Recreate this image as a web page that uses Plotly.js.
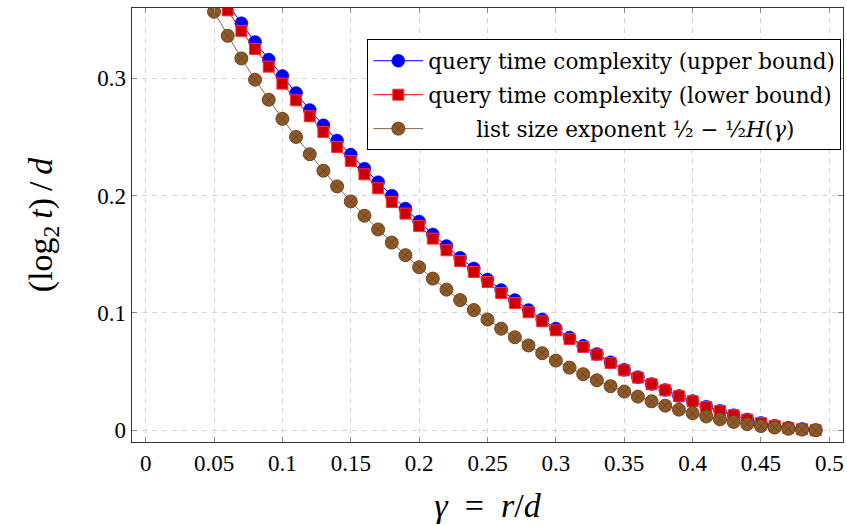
<!DOCTYPE html>
<html>
<head>
<meta charset="utf-8">
<script src="https://cdn.plot.ly/plotly-3.0.1.min.js"></script>
<style>html,body{margin:0;padding:0;background:#fff;}#chart{width:847px;height:525px;}</style>
</head>
<body>
<div id="chart"></div>
<script>
// gamma values
const gamma = [0.05,0.06,0.07,0.08,0.09,0.10,0.11,0.12,0.13,0.14,0.15,0.16,0.17,0.18,0.19,0.20,0.21,0.22,0.23,0.24,0.25,0.26,0.27,0.28,0.29,0.30,0.31,0.32,0.33,0.34,0.35,0.36,0.37,0.38,0.39,0.40,0.41,0.42,0.43,0.44,0.45,0.46,0.47,0.48,0.49];

// query time complexity (upper bound)
const upperBound = [0.380,0.363,0.347,0.331,0.316,0.302,0.2875,0.273,0.260,0.247,0.235,0.223,0.2115,0.200,0.189,0.178,0.167,0.157,0.147,0.138,0.1285,0.1195,0.111,0.1025,0.0945,0.0867,0.079,0.072,0.065,0.058,0.0515,0.0453,0.0395,0.0344,0.0293,0.0249,0.0201,0.0166,0.0129,0.0092,0.0063,0.0038,0.0021,0.0010,0.0001];

// query time complexity (lower bound)
const lowerBound = [0.375,0.358,0.3405,0.325,0.310,0.2955,0.2813,0.2677,0.2543,0.2415,0.2296,0.2182,0.2063,0.1946,0.1847,0.1741,0.1634,0.1534,0.1443,0.1349,0.1264,0.117,0.1085,0.1006,0.0929,0.0852,0.0778,0.0710,0.0645,0.0574,0.0511,0.0449,0.0392,0.0341,0.0290,0.0247,0.0199,0.0165,0.0128,0.0091,0.0062,0.0037,0.0020,0.0009,0.0000];

// list size exponent 1/2 - 1/2 H(gamma)
const listSize = [0.3568,0.3363,0.3170,0.2989,0.2818,0.2655,0.2501,0.2353,0.2213,0.2079,0.1951,0.1829,0.1712,0.1600,0.1493,0.1390,0.1293,0.1199,0.1110,0.1025,0.0944,0.0866,0.0793,0.0723,0.0657,0.0594,0.0534,0.0478,0.0426,0.0376,0.0330,0.0287,0.0247,0.0210,0.0176,0.0145,0.0118,0.0093,0.0071,0.0052,0.0036,0.0023,0.0013,0.0006,0.0001];

const seriesNames = [
  "query time complexity (upper bound)",
  "query time complexity (lower bound)",
  "\u00a0\u00a0\u00a0\u00a0\u00a0\u00a0\u00a0list size exponent ½ − ½<i>H</i>(<i>γ</i>)"
];

const xTickVals = [0,0.05,0.1,0.15,0.2,0.25,0.3,0.35,0.4,0.45,0.5];
const xTickText = ["0","0.05","0.1","0.15","0.2","0.25","0.3","0.35","0.4","0.45","0.5"];
const yTickVals = [0,0.1,0.2,0.3];
const yTickText = ["0","0.1","0.2","0.3"];

const FONT = "Liberation Serif, DejaVu Serif, serif";
const WIDE = "DejaVu Serif, Liberation Serif, serif";

const traces = [
  {
    x: gamma, y: upperBound, name: seriesNames[0], type: "scatter", mode: "lines+markers",
    legendgroup: "a",
    line: {color: "#0000ff", width: 1},
    marker: {symbol: "circle", size: 13, color: "#0000ff", line: {color: "#0000ff", width: 0.5}}
  },
  {
    x: gamma, y: lowerBound, name: seriesNames[1], type: "scatter", mode: "lines+markers",
    legendgroup: "b",
    line: {color: "#ff0000", width: 1},
    marker: {symbol: "square", size: 11, color: "#cc0000", line: {color: "#ff3333", width: 1}}
  },
  {
    x: gamma, y: listSize, name: seriesNames[2], type: "scatter", mode: "lines+markers",
    legendgroup: "c",
    line: {color: "#8a6446", width: 1},
    marker: {symbol: "circle-x", size: 13, color: "#8f5a28", line: {color: "#6a4220", width: 1}}
  }
];

const layout = {
  width: 847, height: 525,
  margin: {l: 132, r: 4, t: 8, b: 83, pad: 0},
  paper_bgcolor: "#ffffff", plot_bgcolor: "#ffffff",
  font: {family: FONT, size: 23, color: "#000"},
  showlegend: true,
  legend: {
    x: 0.9976, xanchor: "right", y: 0.928, yanchor: "top",
    bgcolor: "#ffffff", bordercolor: "#000000", borderwidth: 1,
    font: {family: WIDE, size: 21.5, color: "#000"},
    tracegroupgap: 3, itemwidth: 50
  },
  xaxis: {
    range: [-0.01, 0.51],
    tickmode: "array", tickvals: xTickVals, ticktext: xTickText,
    showgrid: true, gridcolor: "#d6d6d6", griddash: "5px,5px", gridwidth: 1,
    zeroline: false,
    showline: true, linecolor: "#333333", linewidth: 1.3, mirror: "ticks",
    ticks: "inside", ticklen: 5, tickcolor: "#888888", tickwidth: 1,
    tickfont: {family: FONT, size: 23},
    title: {text: "<i>γ</i>\u2002=\u2002<i>r</i>/<i>d</i>", font: {family: FONT, size: 34}, standoff: 18}
  },
  yaxis: {
    range: [-0.01, 0.36],
    tickmode: "array", tickvals: yTickVals, ticktext: yTickText,
    showgrid: true, gridcolor: "#d6d6d6", griddash: "5px,5px", gridwidth: 1,
    zeroline: false,
    showline: true, linecolor: "#333333", linewidth: 1.3, mirror: "ticks",
    ticks: "inside", ticklen: 5, tickcolor: "#888888", tickwidth: 1,
    tickfont: {family: FONT, size: 23},
    title: {text: "(log<sub>2</sub>\u2009<i>t</i>)\u2009/\u2009<i>d</i>", font: {family: FONT, size: 34}, standoff: 34}
  }
};

Plotly.newPlot("chart", traces, layout, {staticPlot: true, displayModeBar: false});
</script>
</body>
</html>
